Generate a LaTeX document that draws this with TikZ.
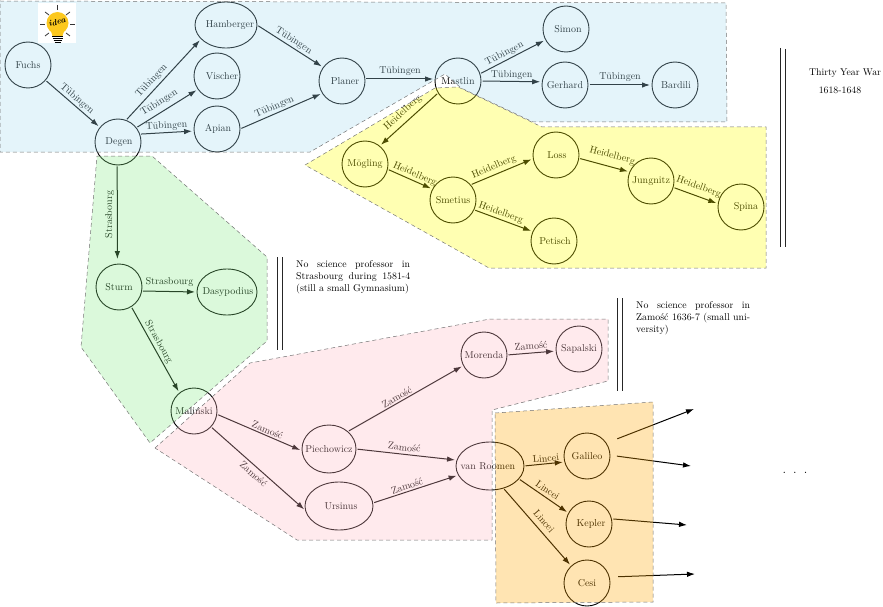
\documentclass[tikz,border=0pt]{standalone}
\usepackage{fontspec}
\usetikzlibrary{shapes.geometric,arrows.meta}
\newcommand{\nm}[2][0]{\makebox[0pt][c]{\hspace{#1pt}\hspace{#1pt}#2}}
\definecolor{rblue}{rgb}{0.65,0.86,0.94}
\definecolor{rgreen}{rgb}{0.53,0.92,0.53}
\definecolor{rpink}{rgb}{1,0.73,0.77}
\definecolor{ryellow}{rgb}{1,1,0}
\definecolor{rorange}{rgb}{1,0.65,0}
\definecolor{bulbyellow}{HTML}{FCC81E}
\tikzset{
  prof/.style={circle,draw=black,line width=0.9pt,minimum size=46pt,inner sep=0pt,outer sep=0pt,font=\fontsize{10}{12}\selectfont},
  profe/.style={ellipse,draw=black,line width=0.9pt,inner sep=0pt,outer sep=0pt,font=\fontsize{10}{12}\selectfont},
  conn/.style={line width=1pt,-{Latex[length=8pt,width=5.5pt]},shorten >=2pt,shorten <=1.5pt},
  lab/.style={midway,sloped,above,font=\fontsize{10}{12}\selectfont,inner sep=1.5pt},
  labb/.style={lab,below,inner sep=3pt},
  region/.style={fill opacity=0.3,draw=black!55,line width=0.5pt,dash pattern=on 4pt off 3pt},
  bar/.style={line width=0.95pt,black!85},
  remark/.style={inner sep=0pt,anchor=north west,font=\fontsize{9.85}{12}\selectfont},
  ray/.style={line width=0.8pt,black!80}
}
\begin{document}
\begin{tikzpicture}[x=1pt,y=-1pt]
\useasboundingbox (0,0) rectangle (883,607);
% nodes
\node[prof] (Fuchs) at (28,65) {\nm{Fuchs}};
\node[prof] (Degen) at (118,142) {\nm[1]{Degen}};
\node[profe,minimum width=62pt,minimum height=46pt] (Hamberger) at (226,25) {\nm[4]{Hamberger}};
\node[prof] (Vischer) at (217,76) {\nm[5]{Vischer}};
\node[prof] (Apian) at (217,129) {\nm[1]{Apian}};
\node[prof] (Planer) at (342,81) {\nm[3]{Planer}};
\node[prof] (Mastlin) at (458,81) {\nm{Mastlin}};
\node[prof] (Simon) at (566,29) {\nm[2]{Simon}};
\node[prof] (Gerhard) at (565,85) {\nm{Gerhard}};
\node[prof] (Bardili) at (675,85) {\nm[1]{Bardili}};
\node[prof] (Mogling) at (365,164) {\nm{Mögling}};
\node[prof] (Smetius) at (453,200) {\nm{Smetius}};
\node[prof] (Loss) at (556,155) {\nm[1]{Loss}};
\node[prof] (Jungnitz) at (651,181) {\nm{Jungnitz}};
\node[prof] (Spina) at (741,207) {\nm[5]{Spina}};
\node[prof] (Petisch) at (554,241) {\nm[1]{Petisch}};
\node[prof] (Sturm) at (119,287) {\nm{Sturm}};
\node[profe,minimum width=60pt,minimum height=46pt] (Dasypodius) at (227,292) {\nm[1]{Dasypodius}};
\node[prof] (Malinski) at (194,411) {\nm{Maliński}};
\node[profe,minimum width=54pt,minimum height=48pt] (Piechowicz) at (329,449) {\nm{Piechowicz}};
\node[profe,minimum width=68pt,minimum height=48pt] (Ursinus) at (339,506) {\nm[2]{Ursinus}};
\node[prof] (Morenda) at (484,355) {\nm{Morenda}};
\node[prof] (Sapalski) at (579,349) {\nm{Sapalski}};
\node[profe,minimum width=68pt,minimum height=48pt] (vanRoomen) at (490,466) {\nm[-2]{van Roomen}};
\node[prof] (Galileo) at (587,456) {\nm{Galileo}};
\node[prof] (Kepler) at (589,524) {\nm[2]{Kepler}};
\node[prof] (Cesi) at (587,583) {\nm{Cesi}};
\coordinate (outA) at (694,409);
\coordinate (outB) at (691,466);
\coordinate (outC) at (687,525);
\coordinate (outD) at (695,574);
% edges: Tubingen
\draw[conn] (Fuchs.-41) -- node[lab]{Tübingen} (Degen.141);
\draw[conn] (Degen.70) -- node[lab,pos=.42,inner sep=3pt]{Tübingen} (Hamberger.209);
\draw[conn] (Degen.38) -- node[lab,pos=.45,inner sep=4pt]{Tübingen} (Vischer.215);
\draw[conn] (Degen.20) -- node[lab]{Tübingen} (Apian.185);
\draw[conn] (Hamberger.0) -- node[lab]{Tübingen} (Planer.144);
\draw[conn] (Apian.0) -- node[lab,pos=.45]{Tübingen} (Planer.212);
\draw[conn] (Planer.5) -- node[lab,inner sep=3pt]{Tübingen} (Mastlin.175);
\draw[conn] (Mastlin.18) -- node[lab,pos=.42]{Tübingen} (Simon.208);
\draw[conn] (Mastlin.0) -- node[lab]{Tübingen} (Gerhard.172);
\draw[conn] (Gerhard.0) -- node[lab,inner sep=3pt]{Tübingen} (Bardili.180);
% Heidelberg
\draw[conn] (Mastlin.211) -- node[lab,inner sep=4pt]{Heidelberg} (Mogling.51);
\draw[conn] (Mogling.-13) -- node[lab,pos=.55]{Heidelberg} (Smetius.152);
\draw[conn] (Smetius.41) -- node[lab,pos=.42,inner sep=2.5pt]{Heidelberg} (Loss.189);
\draw[conn] (Smetius.-25) -- node[lab,pos=.42]{Heidelberg} (Petisch.156);
\draw[conn] (Loss.-8) -- node[lab,pos=.6,inner sep=6pt]{Heidelberg} (Jungnitz.157);
\draw[conn] (Jungnitz.-16) -- node[lab,inner sep=4pt]{Heidelberg} (Spina.172);
% Strasbourg
\draw[conn,shorten >=5pt] (Degen.-92) -- node[midway,rotate=90,anchor=south,font=\fontsize{10}{12}\selectfont,inner sep=2.5pt]{Strasbourg} (Sturm.94);
\draw[conn] (Sturm.-10) -- node[lab,inner sep=4.5pt]{Strasbourg} (Dasypodius.180);
\draw[conn] (Sturm.-58) -- node[lab,pos=.45]{Strasbourg} (Malinski.129);
% Zamosc
\draw[conn] (Malinski.-8) -- node[lab,pos=.57]{Zamość} (Piechowicz.184);
\draw[conn] (Malinski.-43) -- node[labb]{Zamość} (Ursinus.188);
\draw[conn] (Piechowicz.43) -- node[lab,pos=.45]{Zamość} (Morenda.207);
\draw[conn] (Piechowicz.0) -- node[lab,pos=.47,inner sep=3pt]{Zamość} (vanRoomen.170);
\draw[conn] (Ursinus.5) -- node[lab,pos=.42]{Zamość} (vanRoomen.196);
\draw[conn] (Morenda.0) -- node[lab,inner sep=3pt]{Zamość} (Sapalski.185);
% Lincei
\draw[conn] (vanRoomen.0) -- node[lab,pos=.55]{Lincei} (Galileo.195);
\draw[conn] (vanRoomen.-24) -- node[lab,inner sep=3pt]{Lincei} (Kepler.152);
\draw[conn] (vanRoomen.-59) -- node[lab,inner sep=5pt]{Lincei} (Cesi.133);
% outgoing
\draw[conn,shorten <=12pt,shorten >=0pt] (Galileo.34) -- (outA);
\draw[conn,shorten <=7pt,shorten >=0pt] (Galileo.2) -- (outB);
\draw[conn,shorten <=2pt,shorten >=0pt] (Kepler.13) -- (outC);
\draw[conn,shorten <=9pt,shorten >=0pt] (Cesi.15) -- (outD);
% regions
\path[region,fill=rblue] (0,1) -- (726,3) -- (727,122) -- (533,122) -- (461,88) -- (445,74) -- (310,152) -- (0,152) -- cycle;
\path[region,fill=ryellow] (305,165) -- (435,88) -- (458,87) -- (542,127) -- (766,127) -- (766,268) -- (489,268) -- cycle;
\path[region,fill=rgreen] (97,156) -- (152,156) -- (267,257) -- (267,341) -- (150,443) -- (81,347) -- cycle;
\path[region,fill=rpink] (155,448) -- (250,363) -- (490,319) -- (608,319) -- (608,381) -- (492,410) -- (492,540) -- (297,540) -- cycle;
\path[region,fill=rorange] (495,413) -- (653,402) -- (653,602) -- (496,603) -- cycle;
% bulb icon
\fill[white] (38,3.5) rectangle (76,43.5);
\fill[bulbyellow] (57.5,23) circle (11pt);
\fill[bulbyellow] (50,28) -- (65,28) -- (62.5,36) -- (52.5,36) -- cycle;
\draw[line width=0.8pt] (52,36) -- (63,36) (52.5,38) -- (62.5,38) (53.5,40) -- (61.5,40) (54.5,42) -- (60.5,42);
\draw[ray] (57.5,5) -- (57.5,10);
\draw[ray] (40,24) -- (45,24);
\draw[ray] (70,24) -- (75,24);
\draw[ray] (45,12) -- (49,15);
\draw[ray] (70,12) -- (66,15);
\draw[ray] (45,36) -- (49,33);
\draw[ray] (70,36) -- (66,33);
\node[inner sep=0pt,rotate=14,font=\fontsize{8.5}{9}\selectfont\bfseries\itshape] (ideaword) at (57,22) {idea};
% bars
\draw[bar] (780,48) -- (780,247);
\draw[bar] (785,49) -- (785,247);
\draw[bar] (277,257) -- (277,350);
\draw[bar] (282,257) -- (282,350);
\draw[bar] (617,298) -- (617,391);
\draw[bar] (622,298) -- (622,391);
% texts
\node[remark] (noteA) at (296,260.5) {\parbox[t]{114pt}{No science professor in\linebreak Strasbourg during 1581-4\linebreak (still a small Gymnasium)}};
\node[remark] (noteB) at (636,301.5) {\parbox[t]{114pt}{No science professor in\linebreak Zamość 1636-7 (small uni-\linebreak versity)}};
\node[font=\fontsize{9.8}{12}\selectfont,inner sep=0pt] (war) at (845,73) {Thirty Year War};
\node[font=\fontsize{9.8}{12}\selectfont,inner sep=0pt] (years) at (840,90.5) {1618-1648};
\node[inner sep=0pt,font=\fontsize{13}{14}\selectfont] (dots) at (795,473) {.\hspace{7pt}.\hspace{7pt}.};
\end{tikzpicture}
\end{document}
